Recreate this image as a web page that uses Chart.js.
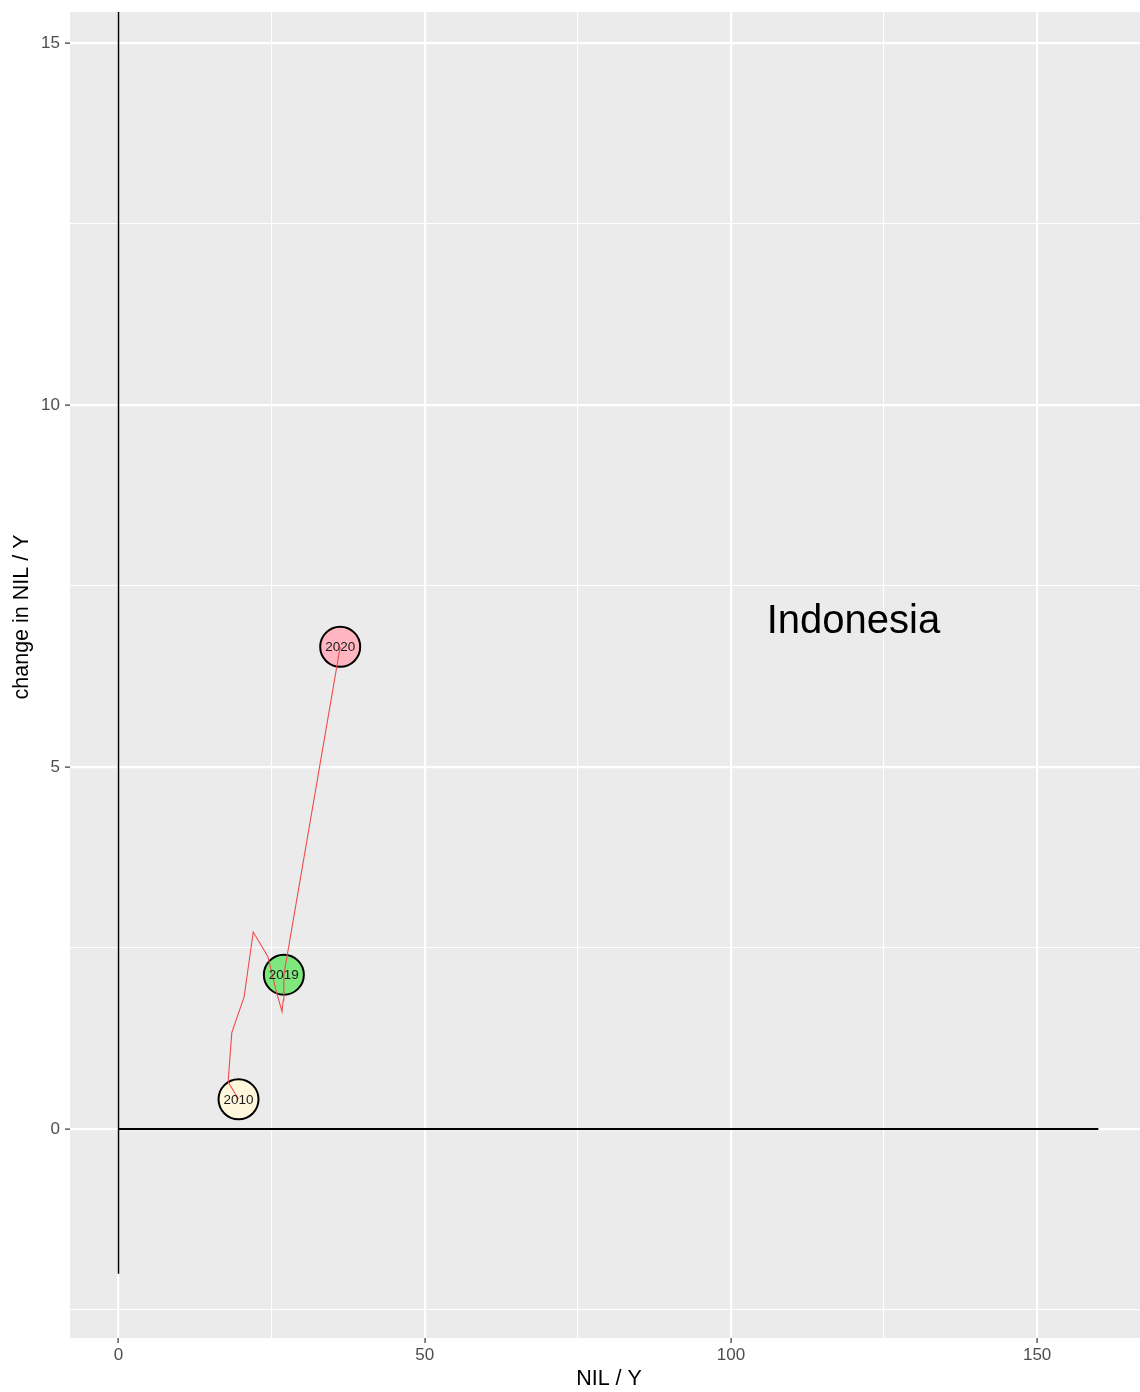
<!DOCTYPE html>
<html>
<head>
<meta charset="utf-8">
<title>Indonesia – NIL / Y</title>
<script src="https://cdn.jsdelivr.net/npm/chart.js@4.4.1/dist/chart.umd.min.js"></script>
<style>
  html, body { margin: 0; padding: 0; background: #ffffff; }
  #wrap { width: 1140px; height: 1392px; }
  canvas { display: block; }
</style>
</head>
<body>
<div id="wrap"><canvas id="c" width="1140" height="1392"></canvas></div>
<script>
// Yearly path of NIL / Y against its change
const years = [2010, 2011, 2012, 2013, 2014, 2015, 2016, 2017, 2018, 2019, 2020];
const nilY = [19.6, 17.9, 18.5, 20.5, 22.0, 24.4, 25.7, 26.7, 26.9, 27.0, 36.2];
const changeNilY = [0.41, 0.65, 1.33, 1.82, 2.72, 2.38, 1.92, 1.62, 1.78, 2.13, 6.66];

// Highlighted years and their marker fills
const markedYears = [2010, 2019, 2020];
const markedFills = ['#FFF8DC', '#7EE87E', '#FFB6C1'];

// Axis ticks
const xTickValues = [0, 25, 50, 75, 100, 125, 150];
const xTickLabels = [0, 50, 100, 150];
const yTickValues = [-2.5, 0, 2.5, 5, 7.5, 10, 12.5, 15];
const yTickLabels = [0, 5, 10, 15];

// Reference axes through the origin
const hLineX = [0, 160];
const vLineY = [-2, 16];

const countryName = 'Indonesia';
const countryAt = { x: 120, y: 7 };

const FONT = "'Liberation Sans', Arial, Helvetica, sans-serif";

const pathPoints = years.map((yr, i) => ({ x: nilY[i], y: changeNilY[i] }));
const markerPoints = markedYears.map(yr => {
  const i = years.indexOf(yr);
  return { x: nilY[i], y: changeNilY[i], year: yr };
});

const panelPlugin = {
  id: 'panel',
  beforeDraw(chart) {
    const { ctx, chartArea: a } = chart;
    ctx.save();
    ctx.fillStyle = '#FFFFFF';
    ctx.fillRect(0, 0, chart.width, chart.height);
    ctx.fillStyle = '#EBEBEB';
    ctx.fillRect(a.left, a.top, a.right - a.left, a.bottom - a.top);
    ctx.restore();
  },
  afterDatasetsDraw(chart) {
    const { ctx } = chart;
    const meta = chart.getDatasetMeta(3);
    ctx.save();
    ctx.fillStyle = '#1A1A1A';
    ctx.font = '13.5px ' + FONT;
    ctx.textAlign = 'center';
    ctx.textBaseline = 'middle';
    meta.data.forEach((el, i) => {
      ctx.fillText(String(markerPoints[i].year), el.x, el.y + 0.5);
    });
    // country annotation
    const xs = chart.scales.x, ys = chart.scales.y;
    ctx.fillStyle = '#000000';
    ctx.font = '40px ' + FONT;
    ctx.fillText(countryName, xs.getPixelForValue(countryAt.x), ys.getPixelForValue(countryAt.y));
    ctx.restore();
  },
  afterDraw(chart) {
    const { ctx } = chart;
    ctx.save();
    ctx.fillStyle = '#000000';
    ctx.font = '21.5px ' + FONT;
    ctx.textAlign = 'center';
    ctx.textBaseline = 'middle';
    ctx.fillText('NIL / Y', 609, 1379);
    ctx.translate(22, 617);
    ctx.rotate(-Math.PI / 2);
    ctx.fillText('change in NIL / Y', 0, 0);
    ctx.restore();
  }
};

function gridFor(majors) {
  return {
    color: '#FFFFFF',
    lineWidth: c => (c.tick && majors.includes(c.tick.value)) ? 2.2 : 1.1,
    drawTicks: true,
    tickLength: 5,
    tickWidth: 1.2,
    tickColor: c => (c.tick && majors.includes(c.tick.value)) ? '#333333' : 'rgba(0,0,0,0)'
  };
}

// the panel runs edge to edge; labels are allowed to overhang
function noScalePadding(s) {
  s.paddingTop = 0; s.paddingBottom = 0; s.paddingLeft = 0; s.paddingRight = 0;
}

new Chart(document.getElementById('c'), {
  type: 'scatter',
  data: {
    datasets: [
      {
        label: 'h0',
        data: hLineX.map(x => ({ x, y: 0 })),
        showLine: true, borderColor: '#000000', borderWidth: 2.2,
        pointRadius: 0, order: 5
      },
      {
        label: 'v0',
        data: vLineY.map(y => ({ x: 0, y })),
        showLine: true, borderColor: '#000000', borderWidth: 1.5,
        pointRadius: 0, order: 4
      },
      {
        label: 'path',
        data: pathPoints,
        showLine: true, borderColor: '#F04B4B', borderWidth: 1.1,
        pointRadius: 0, order: 1
      },
      {
        label: 'years',
        data: markerPoints,
        showLine: false,
        pointRadius: 20,
        pointBackgroundColor: markedFills,
        pointBorderColor: '#000000',
        pointBorderWidth: 2,
        order: 2
      }
    ]
  },
  options: {
    responsive: false,
    devicePixelRatio: 1,
    animation: false,
    layout: { autoPadding: false, padding: { top: 12, right: 0, bottom: 0, left: 0 } },
    plugins: { legend: { display: false }, tooltip: { enabled: false } },
    scales: {
      x: {
        type: 'linear',
        min: -7.92, max: 166.8,
        afterFit: s => { s.height = 54; noScalePadding(s); },
        afterBuildTicks: s => { s.ticks = xTickValues.map(v => ({ value: v })); },
        grid: gridFor(xTickLabels),
        border: { display: false },
        ticks: {
          autoSkip: false, maxRotation: 0, padding: 2,
          color: '#4D4D4D', font: { family: FONT, size: 17 },
          callback: v => xTickLabels.includes(v) ? String(v) : ''
        }
      },
      y: {
        type: 'linear',
        min: -2.887, max: 15.428,
        afterFit: s => { s.width = 70; noScalePadding(s); },
        afterBuildTicks: s => { s.ticks = yTickValues.map(v => ({ value: v })); },
        grid: gridFor(yTickLabels),
        border: { display: false },
        ticks: {
          autoSkip: false, padding: 5,
          color: '#4D4D4D', font: { family: FONT, size: 17 },
          callback: v => yTickLabels.includes(v) ? String(v) : ''
        }
      }
    }
  },
  plugins: [panelPlugin]
});
</script>
</body>
</html>
